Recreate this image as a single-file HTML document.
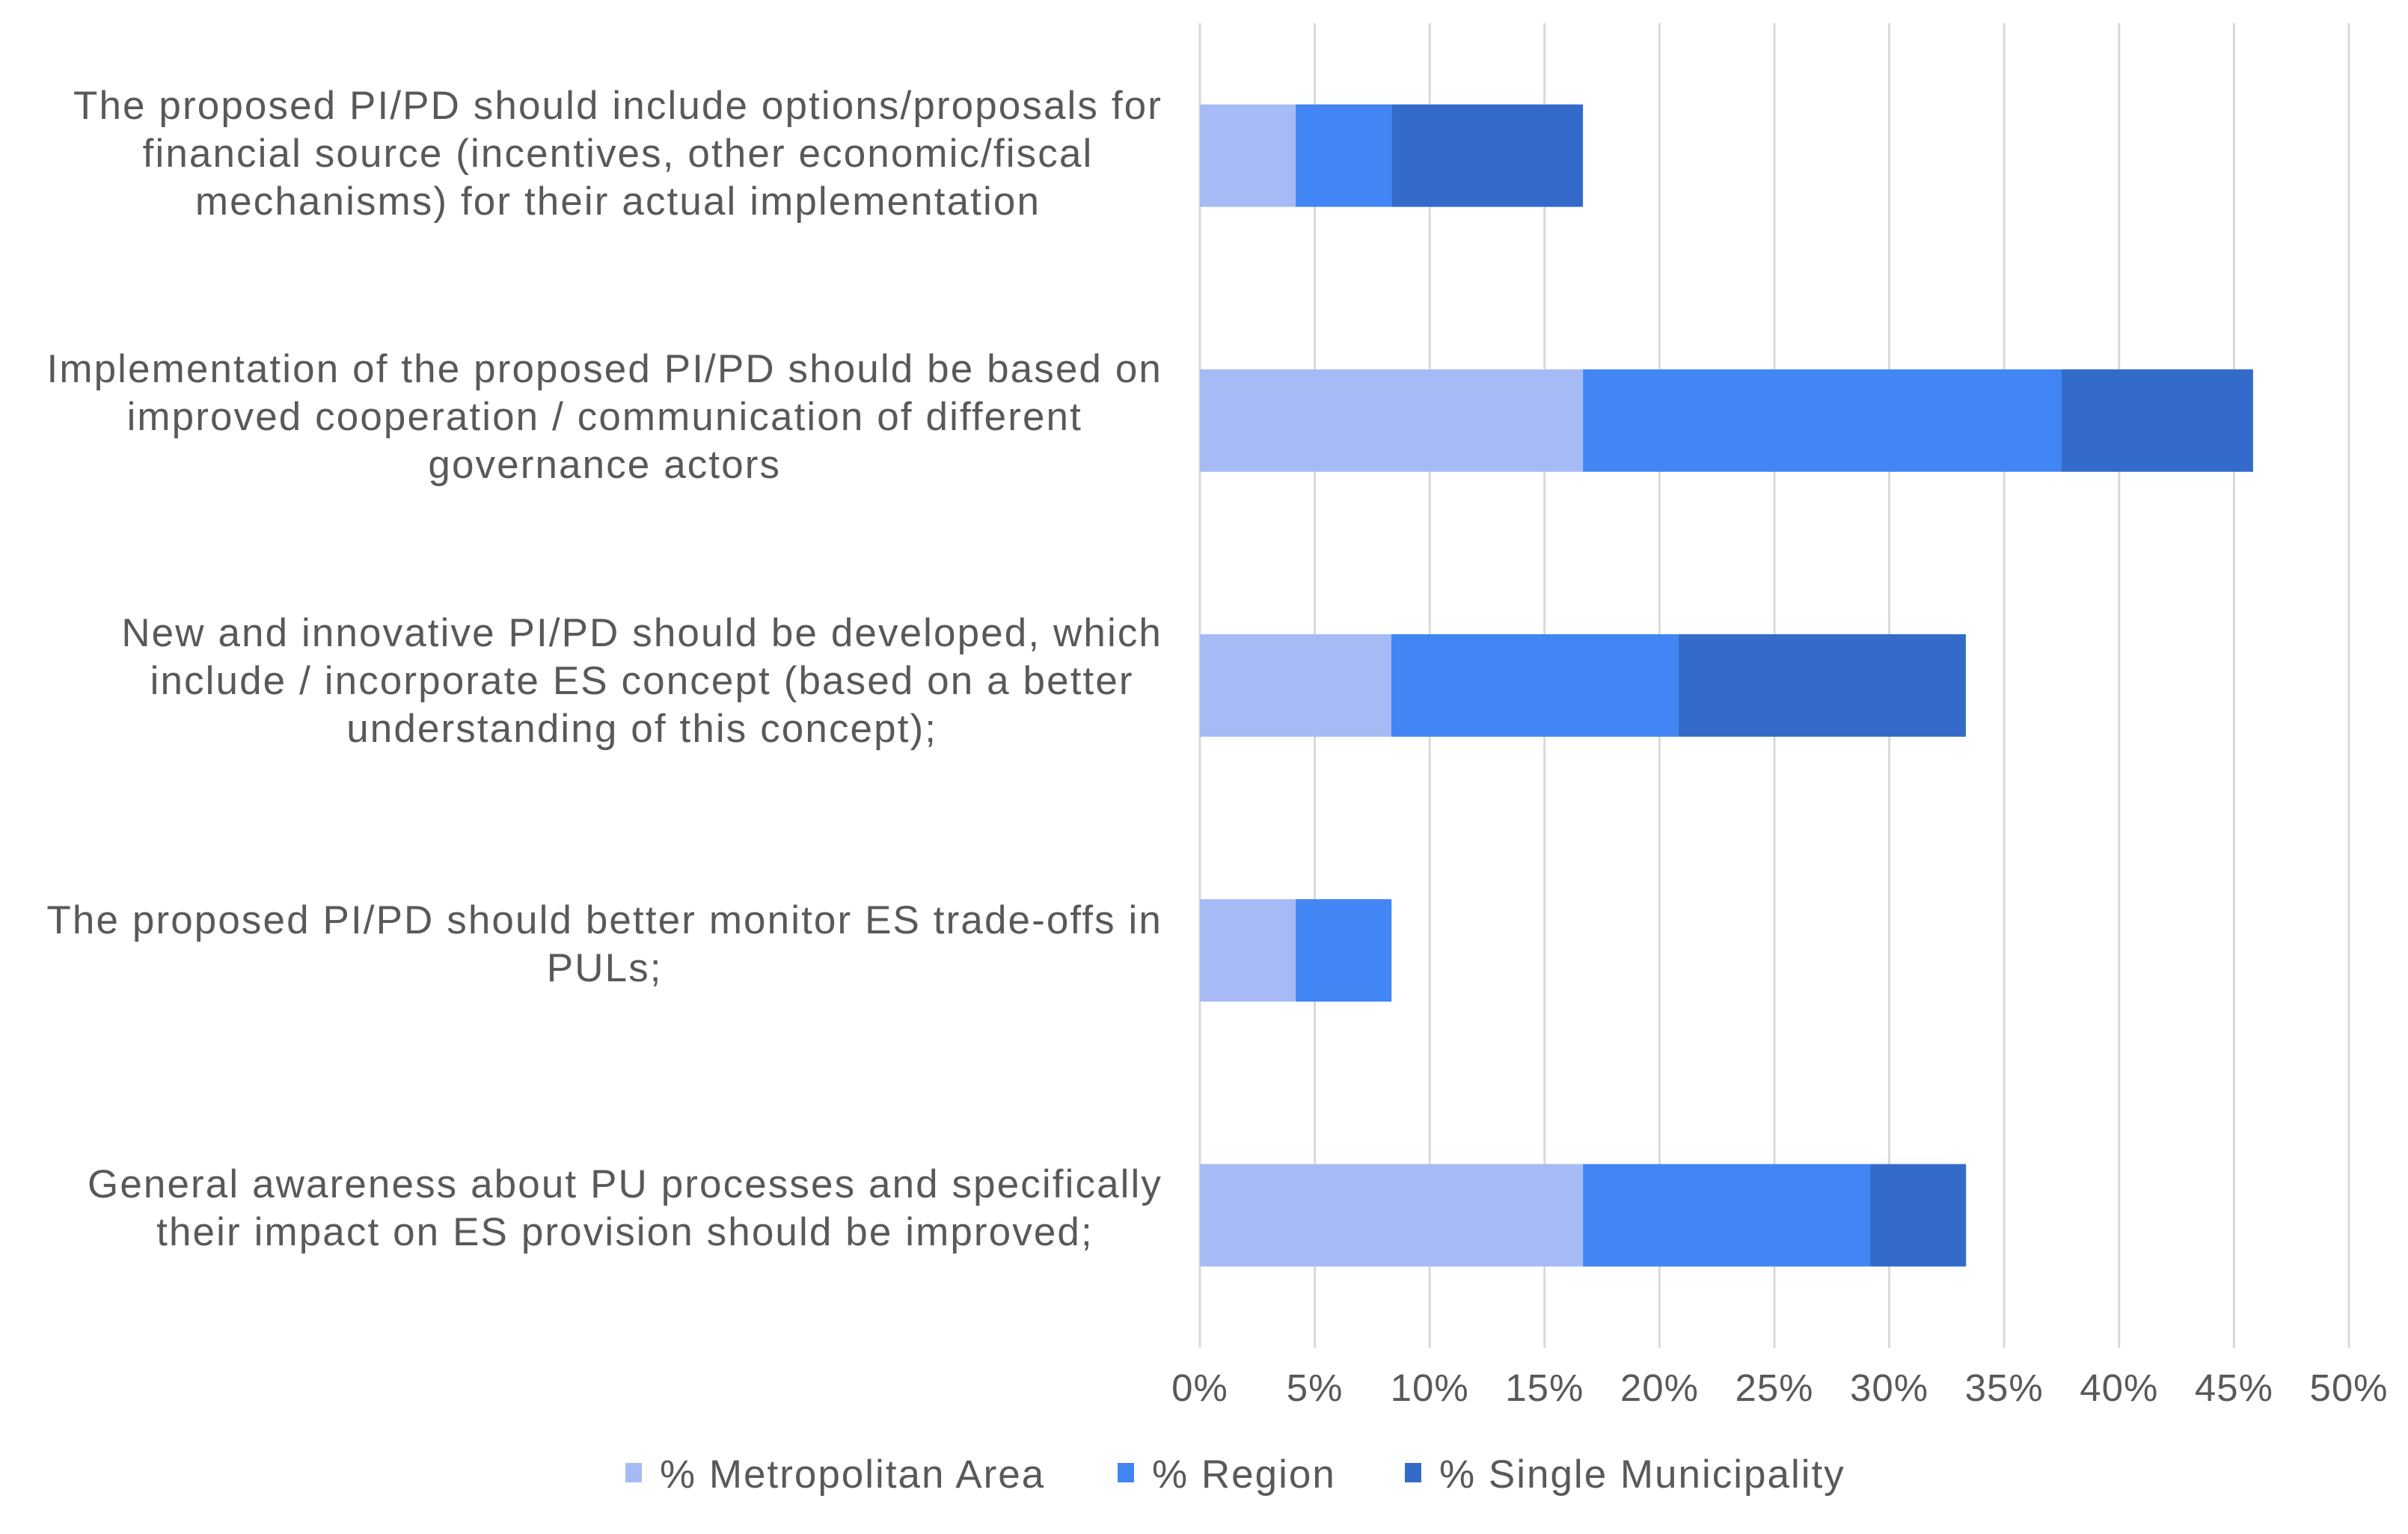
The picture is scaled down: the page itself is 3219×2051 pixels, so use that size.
<!DOCTYPE html>
<html><head><meta charset="utf-8"><style>
html,body{margin:0;padding:0;background:#fff;}
body{width:3219px;height:2051px;position:relative;overflow:hidden;font-family:"Liberation Sans",Arial,sans-serif;color:#595959;}
.cat{position:absolute;right:1665px;text-align:center;font-size:53px;line-height:64px;letter-spacing:2.1px;white-space:nowrap;}
</style></head><body>
<svg id="chart" width="3219" height="2051" style="position:absolute;left:0;top:0"></svg>
<div class="cat" style="top:110px">The proposed PI/PD should include options/proposals for<br>financial source (incentives, other economic/fiscal<br>mechanisms) for their actual implementation</div>
<div class="cat" style="top:462px">Implementation of the proposed PI/PD should be based on<br>improved cooperation / communication of different<br>governance actors</div>
<div class="cat" style="top:815px">New and innovative PI/PD should be developed, which<br>include / incorporate ES concept (based on a better<br>understanding of this concept);</div>
<div class="cat" style="top:1199px">The proposed PI/PD should better monitor ES trade-offs in<br>PULs;</div>
<div class="cat" style="top:1552px">General awareness about PU processes and specifically<br>their impact on ES provision should be improved;</div>
<script>
const categories = ["financial-source","cooperation","innovative","trade-offs","awareness"];
const metroValues = [4.17, 16.67, 8.33, 4.17, 16.67];
const regionValues = [4.17, 20.83, 12.5, 4.17, 12.5];
const singleValues = [8.33, 8.33, 12.5, 0, 4.17];
const tickValues = [0,5,10,15,20,25,30,35,40,45,50];
const tickLabels = ["0%","5%","10%","15%","20%","25%","30%","35%","40%","45%","50%"];
const seriesNames = ["% Metropolitan Area","% Region","% Single Municipality"];
const seriesColors = ["#a6bbf6","#4285f4","#346bcb"];

const NS="http://www.w3.org/2000/svg";
const svg=document.getElementById('chart');
const x0=1604, x1=3140, yTop=31, yBot=1802;
const xs=v=>x0+(v/50)*(x1-x0);
const band=(yBot-yTop)/categories.length;
const yc=i=>yTop+band*(i+0.5);
const bh=137;
function mk(t,a){const e=document.createElementNS(NS,t);for(const k in a)e.setAttribute(k,a[k]);svg.appendChild(e);return e;}
tickValues.forEach((v,i)=>{
  const l=mk('line',{x1:xs(v),x2:xs(v),y1:yTop,y2:yBot,stroke:'#d9d9d9','stroke-width':3});
  
  
  const t=mk('text',{x:xs(v),y:1873,'text-anchor':'middle','font-size':51,fill:'#595959','font-family':'Liberation Sans, Arial, sans-serif','letter-spacing':1});
  t.textContent=tickLabels[i];
  
  
});
const series=[metroValues,regionValues,singleValues];
categories.forEach((c,i)=>{
  let acc=0;
  series.forEach((arr,s)=>{
    const v=arr[i]; if(v<=0) return;
    const r=mk('rect',{x:xs(acc),y:yc(i)-bh/2,width:xs(acc+v)-xs(acc),height:bh,fill:seriesColors[s]});
    
    
    acc+=v;
  });
});
const legX=[836,1494,1878];
seriesNames.forEach((n,i)=>{
  const r=mk('rect',{x:legX[i],y:1956,width:22,height:26,fill:seriesColors[i]});
  
  
  const t=mk('text',{x:legX[i]+46,y:1989,'font-size':53,fill:'#595959','font-family':'Liberation Sans, Arial, sans-serif','letter-spacing':2});
  t.textContent=n;
  
  
});
</script>
</body></html>
